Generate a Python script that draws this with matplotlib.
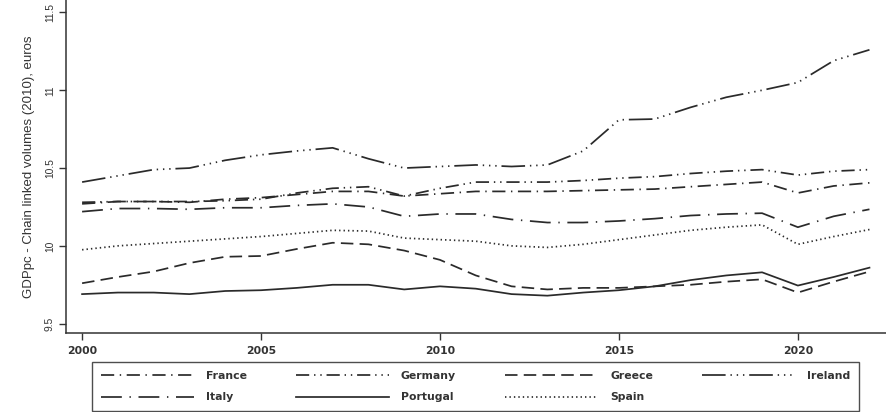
import matplotlib
matplotlib.use("Agg")
import matplotlib.pyplot as plt

plt.rcParams["font.family"] = ["Liberation Sans", "DejaVu Sans"]
plt.rcParams["lines.scale_dashes"] = False

years = list(range(2000, 2023))

france = [10.27, 10.285, 10.285, 10.28, 10.30, 10.31, 10.33, 10.35, 10.35, 10.32,
          10.335, 10.35, 10.35, 10.35, 10.355, 10.36, 10.365, 10.38, 10.395, 10.41,
          10.34, 10.385, 10.405]
germany = [10.28, 10.285, 10.285, 10.285, 10.29, 10.30, 10.34, 10.37, 10.38, 10.32,
           10.37, 10.41, 10.41, 10.41, 10.42, 10.435, 10.445, 10.465, 10.48, 10.49,
           10.455, 10.48, 10.49]
greece = [9.76, 9.80, 9.835, 9.89, 9.93, 9.935, 9.98, 10.02, 10.01, 9.97,
          9.91, 9.81, 9.74, 9.72, 9.73, 9.73, 9.74, 9.75, 9.77, 9.785,
          9.70, 9.77, 9.835]
ireland = [10.41, 10.45, 10.49, 10.50, 10.55, 10.585, 10.61, 10.63, 10.56, 10.50,
           10.51, 10.52, 10.51, 10.52, 10.61, 10.81, 10.815, 10.89, 10.955, 11.0,
           11.05, 11.19, 11.26]
italy = [10.22, 10.24, 10.24, 10.235, 10.245, 10.245, 10.26, 10.27, 10.25, 10.19,
         10.205, 10.205, 10.17, 10.15, 10.15, 10.16, 10.175, 10.195, 10.205, 10.21,
         10.12, 10.19, 10.235]
portugal = [9.69, 9.70, 9.70, 9.69, 9.71, 9.715, 9.73, 9.75, 9.75, 9.72,
            9.74, 9.725, 9.69, 9.68, 9.70, 9.715, 9.74, 9.78, 9.81, 9.83,
            9.745, 9.80, 9.86]
spain = [9.975, 10.00, 10.015, 10.03, 10.045, 10.06, 10.08, 10.10, 10.095, 10.05,
         10.04, 10.03, 10.00, 9.99, 10.01, 10.04, 10.07, 10.10, 10.12, 10.135,
         10.01, 10.06, 10.105]

country_names = ["France", "Germany", "Greece", "Ireland", "Italy", "Portugal", "Spain"]
y_ticks = [9.5, 10, 10.5, 11, 11.5]
y_tick_labels = ["9.5", "10", "10.5", "11", "11.5"]
x_ticks = [2000, 2005, 2010, 2015, 2020]

ink = "#2a2a2a"
text_ink = "#333333"
wide_font = {"family": "DejaVu Sans", "weight": "bold", "size": 7.8}

styles = {
    "France": (0, (9.5, 4.0, 1.0, 4.0)),
    "Germany": (0, (9.5, 3.5, 1.0, 3.5, 1.0, 3.5)),
    "Greece": (0, (9.0, 4.5)),
    "Ireland": (0, (17.0, 3.5, 1.0, 3.5, 1.0, 3.5, 1.0, 3.5)),
    "Italy": (0, (15.0, 5.5, 1.0, 5.5)),
    "Portugal": "solid",
    "Spain": (0, (1.0, 2.2)),
}
series = {
    "France": france, "Germany": germany, "Greece": greece, "Ireland": ireland,
    "Italy": italy, "Portugal": portugal, "Spain": spain,
}

fig = plt.figure(figsize=(8.87, 4.12), dpi=100)
ax = fig.add_axes([0.0744, 0.1917, 0.9256, 0.8083])

handles = {}
for name in country_names:
    (ln,) = ax.plot(years, series[name], color=ink, linewidth=1.25,
                    linestyle=styles[name], label=name)
    handles[name] = ln

ax.set_xlim(1999.55, 2022.49)
ax.set_ylim(9.44, 11.58)
ax.set_xticks(x_ticks)
ax.set_xticklabels([str(x) for x in x_ticks], fontdict=wide_font, color=text_ink)
ax.set_yticks(y_ticks)
ax.set_yticklabels(y_tick_labels, fontsize=7.4, rotation=90, va="center",
                   color=text_ink)
ax.tick_params(axis="both", direction="out", length=5, width=1.0, color="#333333")
ax.tick_params(axis="x", pad=4)
ax.tick_params(axis="y", pad=3)
for side in ("top", "right"):
    ax.spines[side].set_visible(False)
for side in ("left", "bottom"):
    ax.spines[side].set_linewidth(1.1)
    ax.spines[side].set_color("#333333")

ax.set_ylabel("GDPpc - Chain linked volumes (2010), euros", fontsize=9.5,
              color=text_ink, labelpad=7)

# legend filled column-wise: arrange so rows read France..Ireland / Italy..Spain
order = ["France", "Italy", "Germany", "Portugal", "Greece", "Spain", "Ireland"]
leg = fig.legend([handles[n] for n in order], order, ncol=4,
                 loc="lower left", bbox_to_anchor=(0.1037, 0.0024, 0.8648, 0.119),
                 mode="expand", borderaxespad=0, frameon=True, fancybox=False,
                 prop=wide_font, handlelength=8.6, handletextpad=1.1,
                 borderpad=0.8, labelspacing=1.05, columnspacing=1.0)
for t in leg.get_texts():
    t.set_color(text_ink)
leg.get_frame().set_edgecolor("#222222")
leg.get_frame().set_linewidth(1.0)

fig.savefig("out.png", dpi=100)
